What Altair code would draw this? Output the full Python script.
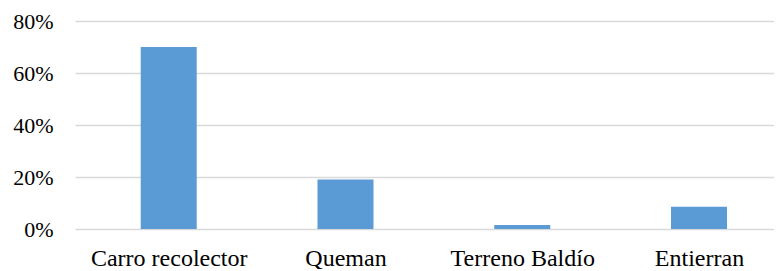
import altair as alt
import pandas as pd
import json

categories = ["Carro recolector", "Queman", "Terreno Baldío", "Entierran"]
values = [0.70, 0.19, 0.015, 0.086]

df = pd.DataFrame({"cat": categories, "val": values, "idx": list(range(len(categories)))})

FONT = "Times New Roman, Liberation Serif, serif"
label_expr = json.dumps(categories, ensure_ascii=False) + "[datum.value]"

chart = alt.Chart(df).mark_bar(color="#5B9BD5", size=56).encode(
    x=alt.X("idx:Q", title=None,
            scale=alt.Scale(domain=[-0.502, 3.396], nice=False, zero=False),
            axis=alt.Axis(values=list(range(len(categories))), labelExpr=label_expr,
                          labelAngle=0, ticks=False, domain=False, labelFlush=False,
                          labelOverlap=False, labelFontSize=24,
                          labelPadding=17, grid=False)),
    y=alt.Y("val:Q", title=None,
            scale=alt.Scale(domain=[0, 0.8]),
            axis=alt.Axis(values=[0, 0.2, 0.4, 0.6, 0.8], format=".0%",
                          ticks=False, domain=False, grid=True, labelFontSize=22,
                          gridColor="#d9d9d9", gridWidth=1.5, labelPadding=22)),
    tooltip=["cat:N", alt.Tooltip("val:Q", format=".0%")],
).properties(
    width=699, height=208,
    autosize=alt.AutoSizeParams(type="none"),
    padding={"left": 67, "top": 13, "right": 0, "bottom": 40},
).configure_view(stroke=None).configure_axis(
    labelFont=FONT, labelColor="#000000"
)

chart.save("out.html", embed_options={"renderer": "svg", "actions": False})
